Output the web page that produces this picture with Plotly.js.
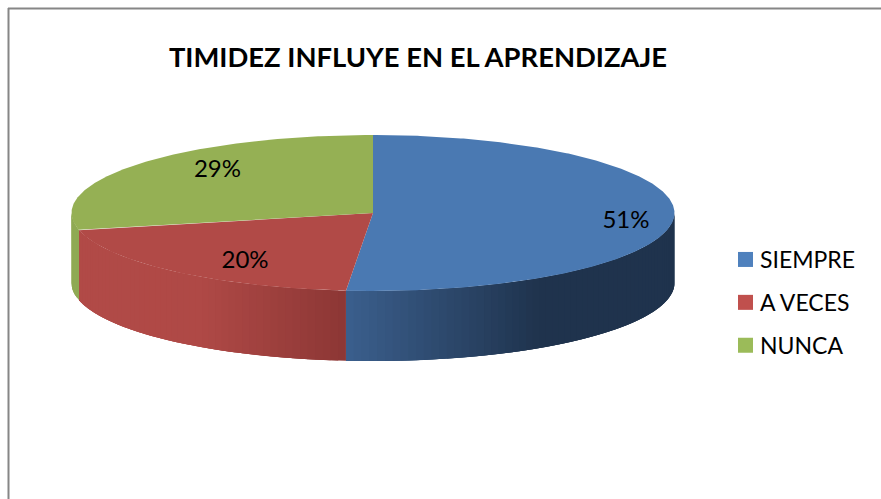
<!DOCTYPE html>
<html>
<head>
<meta charset="utf-8">
<script src="https://cdn.plot.ly/plotly-3.0.1.min.js"></script>
<style>html,body{margin:0;padding:0;background:#fff;overflow:hidden}#chart{width:881px;height:499px}</style>
</head>
<body>
<div id="chart"></div>
<script>
// Data
const categories = ['SIEMPRE', 'A VECES', 'NUNCA'];
const values = [18, 7, 10];
const chartTitle = 'TIMIDEZ INFLUYE EN EL APRENDIZAJE';

// Styles
const legendColors = ['#4F81BD', '#C0504D', '#9BBB59'];
const topColors = ['#4A79B2', '#B14A47', '#95B054'];
const sideStops = [
  [[346, [59, 95, 141]], [540, [31, 51, 77]], [674, [31, 51, 77]]],
  [[78, [177, 74, 71]], [200, [175, 73, 70]], [346, [140, 55, 53]]],
  [[71, [143, 170, 84]], [78, [143, 170, 84]]]
];
const labelFactorX = [0.84, 0.645, 0.66];
const labelFactorY = [2.6, 0.83, 0.86];

// Pie geometry, in page pixels
const cx = 373, cy = 213, rx = 301.5, ry = 78, depth = 70;
const px = a => cx + rx * Math.sin(a);
const py = a => cy - ry * Math.cos(a);
const rad = d => d * Math.PI / 180;

const total = values.reduce((s, v) => s + v, 0);
let acc = 0;
const slices = values.map(v => {
  const s = { start: acc / total * 360, end: (acc + v) / total * 360 };
  acc += v;
  return s;
});

function arc(a0, a1, step) {
  const n = Math.max(1, Math.ceil(Math.abs(a1 - a0) / step));
  const out = [];
  for (let i = 0; i <= n; i++) out.push(rad(a0 + (a1 - a0) * i / n));
  return out;
}
function shade(stops, x) {
  if (x <= stops[0][0]) return stops[0][1];
  for (let i = 1; i < stops.length; i++) {
    if (x <= stops[i][0]) {
      const t = (x - stops[i - 1][0]) / (stops[i][0] - stops[i - 1][0]);
      return stops[i - 1][1].map((c, k) => c + (stops[i][1][k] - c) * t);
    }
  }
  return stops[stops.length - 1][1];
}

const traces = [];
// Side walls: front half only, cut into thin overlapping strips to carry the shading
slices.forEach((s, i) => {
  const a0 = Math.max(s.start, 90), a1 = Math.min(s.end, 270);
  if (a1 <= a0) return;
  const n = Math.max(1, Math.ceil((a1 - a0) / 1.5));
  for (let k = 0; k < n; k++) {
    const b0 = a0 + (a1 - a0) * k / n, b1 = a0 + (a1 - a0) * (k + 1) / n;
    const pts = arc(b0, Math.min(b1 + 3, a1), 0.5);
    const xs = pts.map(px).concat(pts.slice().reverse().map(px));
    const ys = pts.map(py).concat(pts.slice().reverse().map(a => py(a) + depth));
    const c = shade(sideStops[i], px(rad((b0 + b1) / 2))).map(Math.round);
    const col = 'rgb(' + c.join(',') + ')';
    traces.push({ type: 'scatter', mode: 'lines', x: xs, y: ys, fill: 'toself',
      fillcolor: col, line: { width: 0 }, hoverinfo: 'skip', showlegend: false });
  }
});
// Top faces
slices.forEach((s, i) => {
  const pts = arc(s.start, s.end, 0.5);
  traces.push({ type: 'scatter', mode: 'lines',
    x: [cx].concat(pts.map(px), [cx]), y: [cy].concat(pts.map(py), [cy]),
    fill: 'toself', fillcolor: topColors[i], line: { width: 0 },
    hoverinfo: 'skip', showlegend: false });
});
// Percentage labels
traces.push({ type: 'scatter', mode: 'text',
  x: slices.map((s, i) => cx + rx * labelFactorX[i] * Math.sin(rad((s.start + s.end) / 2))),
  y: slices.map((s, i) => cy - ry * labelFactorY[i] * Math.cos(rad((s.start + s.end) / 2))),
  text: values.map(v => Math.round(v / total * 100) + '%'),
  textposition: 'middle center', textfont: { family: 'Lato, sans-serif', size: 24, color: '#000' },
  hoverinfo: 'skip', showlegend: false });
// Legend entries
categories.forEach((c, i) => {
  traces.push({ type: 'scatter', mode: 'markers', x: [null], y: [null], name: c, legendgroup: c,
    marker: { symbol: 'square', size: 15, color: legendColors[i] } });
});

const layout = {
  width: 881, height: 499,
  margin: { l: 0, r: 0, t: 0, b: 0 },
  paper_bgcolor: '#fff', plot_bgcolor: '#fff',
  title: { text: '<b>' + chartTitle + '</b>', x: 418 / 881, xanchor: 'center', y: 1 - 57 / 499, yanchor: 'middle',
    font: { family: 'Lato, sans-serif', size: 27.4, color: '#000' } },
  xaxis: { range: [0, 881], visible: false, fixedrange: true },
  yaxis: { range: [499, 0], visible: false, fixedrange: true },
  showlegend: true,
  legend: { x: 720 / 881, xanchor: 'left', y: 1 - 238 / 499, yanchor: 'top', traceorder: 'grouped',
    tracegroupgap: 10, bgcolor: 'rgba(0,0,0,0)', font: { family: 'Lato, sans-serif', size: 23, color: '#000' } },
  shapes: [
    { type: 'line', xref: 'x', yref: 'y', x0: 8.5, x1: 8.5, y0: 8, y1: 499, line: { color: '#868686', width: 2 } },
    { type: 'line', xref: 'x', yref: 'y', x0: 8, x1: 881, y0: 8.5, y1: 8.5, line: { color: '#868686', width: 2 } }
  ]
};
Plotly.newPlot('chart', traces, layout, { displayModeBar: false, staticPlot: true }).then(() => {
  // Reference swatches sit closer to their text than Plotly's minimum symbol slot allows
  document.querySelectorAll('.legendsymbols').forEach(g => g.setAttribute('transform', 'translate(5.5,0)'));
});
</script>
</body>
</html>
